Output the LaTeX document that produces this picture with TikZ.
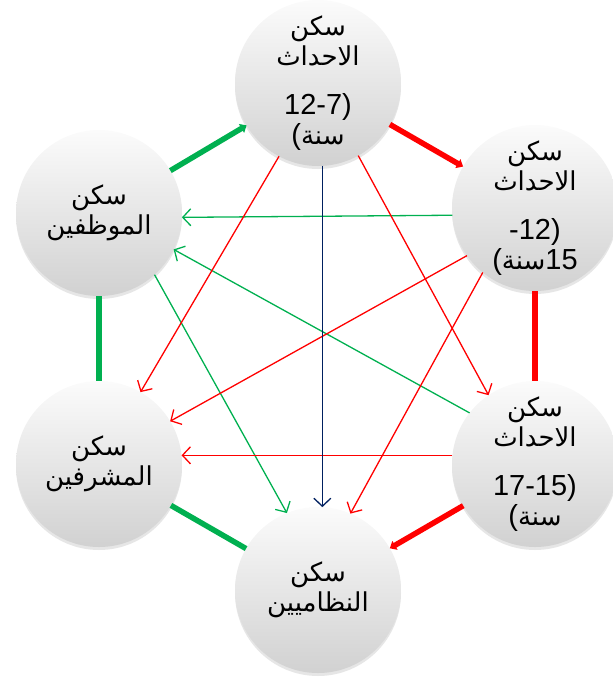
\documentclass[tikz,border=0pt]{standalone}
\usepackage{fontspec}
\setmainfont{Liberation Sans}
\newfontfamily\arabicfont[Script=Arabic]{DejaVu Sans}
\TeXXeTstate=1
\usepackage{tikz}
\usetikzlibrary{arrows.meta, shadows}
\definecolor{housegreen}{RGB}{0,176,80}
\definecolor{housered}{RGB}{255,0,0}
\definecolor{housenavy}{RGB}{0,32,96}
\newcommand{\arw}[1]{{\arabicfont\beginR #1\endR}}
\newcommand{\nums}[1]{{\fontsize{29}{30}\selectfont #1}}

\begin{document}
\begin{tikzpicture}[
    x=1pt, y=-1pt,
    every node/.style={font=\fontsize{26}{30}\selectfont},
    house/.style={circle, minimum size=166pt, inner sep=0pt, outer sep=0pt, align=center, top color=gray!3, bottom color=gray!36, drop shadow={shadow xshift=0pt, shadow yshift=-3pt, opacity=0.2}},
    ring/.style={line width=5.5pt},
    link/.style={line width=1.3pt, -{Straight Barb[length=8pt,width=17pt]}}
]
\useasboundingbox (0,0) rectangle (613,681);

\node[house] (t) at (318,83) {\arw{سكن}\\\arw{الاحداث}\\[19pt]\nums{12-7)}\\\nums{(}\arw{سنة}};
\node[house] (tr) at (535,208) {\arw{سكن}\\\arw{الاحداث}\\[19pt]\nums{-12)}\\\nums{(}\arw{سنة}\nums{15}};
\node[house] (br) at (535,464) {\arw{سكن}\\\arw{الاحداث}\\[19pt]\nums{17-15)}\\\nums{(}\arw{سنة}};
\node[house] (b) at (318,590) {\arw{سكن}\\\arw{النظاميين}};
\node[house] (bl) at (99,464) {\arw{سكن}\\\arw{المشرفين}};
\node[house] (tl) at (99,213) {\arw{سكن}\\\arw{الموظفين}};

% ring round the houses
\draw[ring, housegreen, -{Triangle[length=6pt,width=10pt]}] (tl) -- (t);
\draw[ring, housered, -{Triangle[length=6pt,width=10pt]}] (t) -- (tr);
\draw[ring, housered] (tr) -- (br);
\draw[ring, housered, -{Triangle[length=6pt,width=10pt]}] (br) -- (b);
\draw[ring, housegreen] (bl) -- (b);
\draw[ring, housegreen] (tl) -- (bl);

% links across
\draw[link, housegreen] (tr.185) -- (tl.-3);
\draw[link, housegreen] (br.142) -- (tl.-26);
\draw[link, housegreen] (tl.-48) -- (b.112);
\draw[link, housered] (t.242) -- (bl.60);
\draw[link, housered] (t.-61) -- (br.124);
\draw[link, housered] (tr.215) -- (bl.31);
\draw[link, housered] (tr.231) -- (b.67);
\draw[link, housered] (br.174) -- (bl.6);
\draw[link, housenavy] (t.-87) -- (b.87);

\end{tikzpicture}
\end{document}
